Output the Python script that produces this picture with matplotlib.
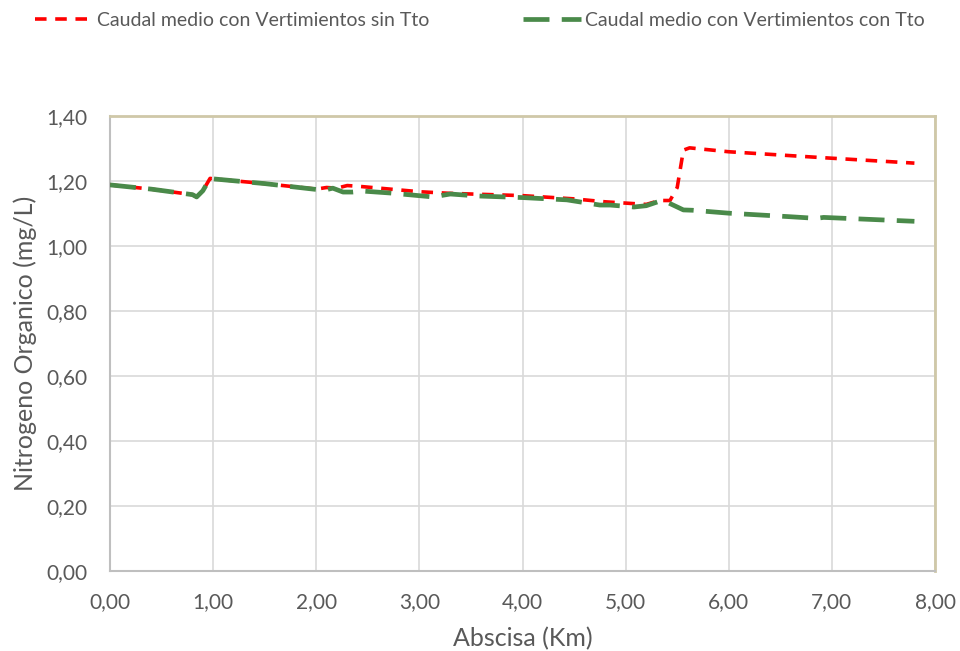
import matplotlib
matplotlib.use("Agg")
import matplotlib.pyplot as plt
from matplotlib.ticker import FuncFormatter

# Caudal medio con Vertimientos sin Tto
x_sin = [0.0, 0.40, 0.80, 0.84, 0.90, 0.97, 1.02, 1.50, 2.00, 2.10, 2.20, 2.30,
         2.40, 3.00, 3.30, 4.00, 4.50, 4.80, 5.10, 5.20, 5.33, 5.43, 5.50,
         5.56, 5.62, 6.00, 6.90, 7.80]
y_sin = [1.188, 1.175, 1.158, 1.151, 1.170, 1.208, 1.206, 1.192, 1.175, 1.180,
         1.178, 1.186, 1.184, 1.167, 1.162, 1.155, 1.145, 1.136, 1.130, 1.128,
         1.140, 1.140, 1.180, 1.295, 1.302, 1.290, 1.272, 1.255]

# Caudal medio con Vertimientos con Tto
x_con = [0.0, 0.40, 0.80, 0.84, 0.90, 0.97, 1.02, 1.50, 2.00, 2.08, 2.16, 2.26,
         2.35, 2.45, 2.72, 3.13, 3.30, 3.56, 4.00, 4.43, 4.75, 4.85, 5.08, 5.20,
         5.33, 5.42, 5.56, 5.65, 6.00, 6.60, 6.85, 6.92, 7.80]
y_con = [1.188, 1.175, 1.158, 1.151, 1.170, 1.208, 1.206, 1.192, 1.174, 1.172,
         1.178, 1.166, 1.166, 1.169, 1.163, 1.151, 1.160, 1.154, 1.149, 1.142,
         1.126, 1.126, 1.120, 1.124, 1.138, 1.132, 1.111, 1.110, 1.101, 1.090,
         1.085, 1.088, 1.076]

plt.rcParams["font.family"] = ["Lato", "DejaVu Sans"]

fig = plt.figure(figsize=(9.6, 6.51), dpi=100)
ax = fig.add_axes([0.1146, 0.1229, 0.8594, 0.6989])

ax.plot(x_sin, y_sin, color="#ff0000", linewidth=2.6, dashes=(3.2, 2.4),
        label="Caudal medio con Vertimientos sin Tto", zorder=3)
ax.plot(x_con, y_con, color="#4a8a4a", linewidth=3.4, dashes=(5.5, 2.6),
        label="Caudal medio con Vertimientos con Tto", zorder=4)

ax.set_xlim(0, 8)
ax.set_ylim(0, 1.4)
ax.set_xticks([i for i in range(9)])
ax.set_yticks([i * 0.2 for i in range(8)])
comma = FuncFormatter(lambda v, p: f"{v:.2f}".replace(".", ","))
ax.xaxis.set_major_formatter(comma)
ax.yaxis.set_major_formatter(comma)
ax.tick_params(length=0, labelsize=15, labelcolor="#595959")
ax.tick_params(axis="x", pad=15)
ax.tick_params(axis="y", pad=16)

ax.grid(True, color="#d9d9d9", linewidth=1.2)
ax.set_axisbelow(True)
for s in ["left", "bottom"]:
    ax.spines[s].set_color("#bfbfbf")
    ax.spines[s].set_linewidth(1.5)
for s in ["top", "right"]:
    ax.spines[s].set_color("#cfc8a8")
    ax.spines[s].set_linewidth(2)

ax.set_xlabel("Abscisa (Km)", fontsize=18, color="#595959")
ax.set_ylabel("Nitrogeno Organico (mg/L)", fontsize=18, color="#595959")
ax.xaxis.set_label_coords(0.5, -0.122)
ax.yaxis.set_label_coords(-0.088, 0.5)

leg = fig.legend(loc="upper left", bbox_to_anchor=(0.018, 1.008), ncol=2,
                 frameon=False, fontsize=14, labelcolor="#595959",
                 handlelength=3.0, handletextpad=0.2, columnspacing=4.8)

fig.savefig("out.png", dpi=100)
